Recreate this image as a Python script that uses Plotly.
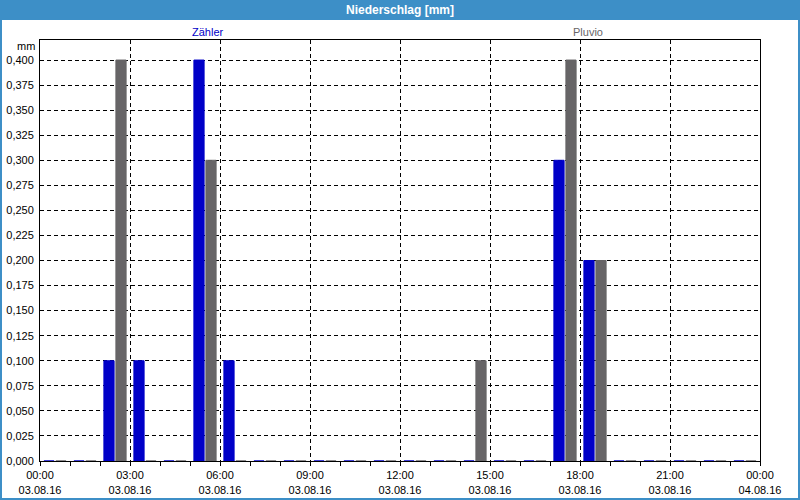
import plotly.graph_objects as go

# ---- data ----
hours = [f"2016-08-03 {h:02d}:00" for h in range(24)]
zaehler = [0, 0, 0.1, 0.1, 0, 0.4, 0.1, 0, 0, 0, 0, 0, 0, 0, 0, 0, 0, 0.3, 0.2, 0, 0, 0, 0, 0]
pluvio = [0, 0, 0.4, 0, 0, 0.3, 0, 0, 0, 0, 0, 0, 0, 0, 0.1, 0, 0, 0.4, 0.2, 0, 0, 0, 0, 0]
tick_vals = ["2016-08-03 00:00", "2016-08-03 03:00", "2016-08-03 06:00", "2016-08-03 09:00",
             "2016-08-03 12:00", "2016-08-03 15:00", "2016-08-03 18:00", "2016-08-03 21:00",
             "2016-08-04 00:00"]
tick_text = ["00:00<br>03.08.16", "03:00<br>03.08.16", "06:00<br>03.08.16", "09:00<br>03.08.16",
             "12:00<br>03.08.16", "15:00<br>03.08.16", "18:00<br>03.08.16", "21:00<br>03.08.16",
             "00:00<br>04.08.16"]
y_ticks = [i * 0.025 for i in range(17)]

BLUE = "#0000C8"
GREY = "#676567"
BAR_BLUE = "#3D8FC7"
FONT = "Liberation Sans"

fig = go.Figure()
for name, vals, col in [("Zähler", zaehler, BLUE), ("Pluvio", pluvio, GREY)]:
    fig.add_trace(go.Bar(
        x=hours, y=vals, name=name,
        xperiod=3600000, xperiodalignment="middle",
        marker=dict(color=col, line=dict(color=col, width=1)),
        showlegend=False,
    ))

# pixel helpers for decorations (plot area 40..760 x, 40..461 y)
L, R, T, B = 40, 40, 40, 39
W, H = 800 - L - R, 500 - T - B
def px(x):
    return (x - L) / W
def py(y):
    return (500 - B - y) / H

fig.update_layout(
    width=800, height=500,
    margin=dict(l=L, r=R, t=T, b=B),
    paper_bgcolor="white", plot_bgcolor="white",
    barmode="group", bargap=0.2, bargroupgap=0.15,
    separators=",.",
    font=dict(family=FONT, size=11, color="black"),
    xaxis=dict(
        type="date", automargin=False,
        range=["2016-08-03 00:00", "2016-08-04 00:00"],
        tickmode="array", tickvals=tick_vals, ticktext=tick_text,
        ticks="outside", ticklen=4, tickcolor="black",
        showgrid=True, gridcolor="black", griddash="4px,3px", gridwidth=1,
        showline=True, linecolor="black", linewidth=1, mirror=True,
        minor=dict(dtick=3600000, tick0="2016-08-03 00:00", ticks="outside",
                   ticklen=4, tickcolor="black", showgrid=False),
        tickfont=dict(family=FONT, size=11, color="black"),
        zeroline=False,
    ),
    yaxis=dict(
        range=[0, 0.42], automargin=False,
        tickmode="array", tickvals=y_ticks, tickformat=".3f",
        ticks="", showgrid=True, gridcolor="black", griddash="4px,3px", gridwidth=1,
        showline=True, linecolor="black", linewidth=1, mirror=True,
        zeroline=False, ticklabelstandoff=3,
        tickfont=dict(family=FONT, size=11, color="black"),
    ),
    shapes=[
        dict(type="rect", xref="paper", yref="paper",
             x0=px(0), x1=px(800), y0=py(20), y1=py(0),
             fillcolor=BAR_BLUE, line=dict(width=0), layer="above"),
        dict(type="rect", xref="paper", yref="paper",
             x0=px(1), x1=px(799), y0=py(499), y1=py(1),
             fillcolor="rgba(0,0,0,0)", line=dict(color=BAR_BLUE, width=2), layer="above"),
    ],
    annotations=[
        dict(text="<b>Niederschlag [mm]</b>", xref="paper", yref="paper",
             x=px(400), y=py(10), showarrow=False, xanchor="center", yanchor="middle",
             font=dict(family=FONT, size=12, color="white")),
        dict(text="Zähler", xref="paper", yref="paper",
             x=px(208), y=py(32), showarrow=False, xanchor="center", yanchor="middle",
             font=dict(family=FONT, size=11, color=BLUE)),
        dict(text="Pluvio", xref="paper", yref="paper",
             x=px(588), y=py(32), showarrow=False, xanchor="center", yanchor="middle",
             font=dict(family=FONT, size=11, color=GREY)),
        dict(text="mm", xref="paper", yref="paper",
             x=px(37), y=py(46), showarrow=False, xanchor="right", yanchor="middle",
             font=dict(family=FONT, size=11, color="black")),
    ],
)

fig.write_html("out.html")
